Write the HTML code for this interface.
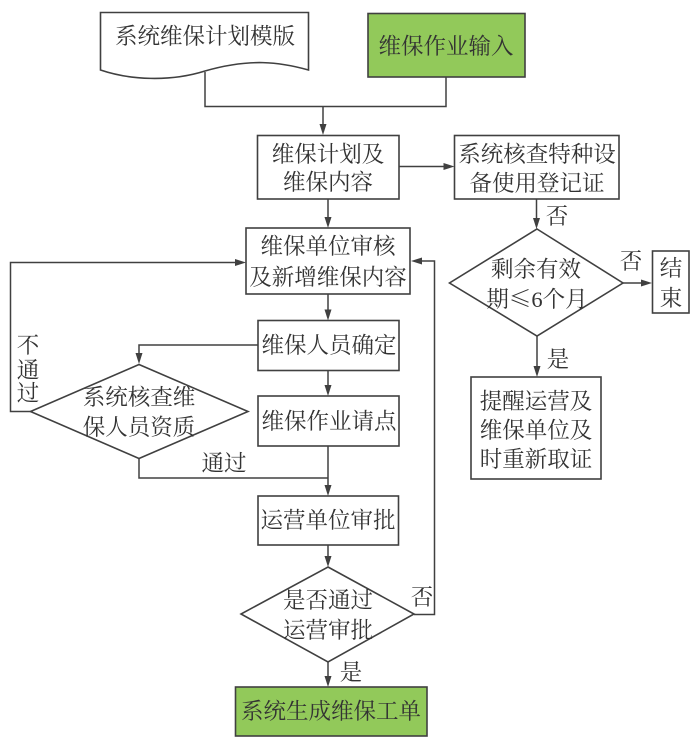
<!DOCTYPE html>
<html><head><meta charset="utf-8"><style>
html,body{margin:0;padding:0;background:#fff}
svg{display:block;filter:blur(0.35px)}
text{font-family:"Liberation Serif","Noto Serif CJK SC",serif;font-size:22.5px;fill:#333;text-anchor:middle}
.b{fill:#fff;stroke:#404040;stroke-width:1.6}
.g{fill:#92c95a;stroke:#404040;stroke-width:1.6}
.l{fill:none;stroke:#404040;stroke-width:1.5}
.a{fill:#404040;stroke:none}
</style></head><body>
<svg width="693" height="738" viewBox="0 0 693 738" xmlns="http://www.w3.org/2000/svg">
<path class="b" d="M100.5,12.5H308.5V70C280,62 250,58 205,71C170,82 130,80 100.5,70Z"/>
<rect class="g" x="368" y="13.5" width="157" height="63.5"/>
<path class="l" d="M205,72V106.5H446V77M323,106.5V130"/>
<path class="a" d="M323,135l-3.5,-11h7z"/>
<rect class="b" x="257.5" y="135.5" width="141.5" height="63.5"/>
<rect class="b" x="454.5" y="135.5" width="164.5" height="63.5"/>
<path class="l" d="M399,166.5H450"/><path class="a" d="M454.5,166.5l-11,-3.5v7z"/>
<path class="l" d="M328,199V223"/><path class="a" d="M328,228l-3.5,-11h7z"/>
<rect class="b" x="246" y="228" width="164" height="66"/>
<path class="l" d="M328,294V315"/><path class="a" d="M328,320.500l-3.5,-11h7z"/>
<rect class="b" x="258" y="320.500" width="141" height="50"/>
<path class="l" d="M328,370V391"/><path class="a" d="M328,396l-3.500,-11h7z"/>
<rect class="b" x="258" y="396" width="141" height="50"/>
<path class="l" d="M328,446V491"/><path class="a" d="M328,496l-3.500,-11h7z"/>
<rect class="b" x="258" y="496" width="140.500" height="49"/>
<path class="l" d="M328,545V562"/><path class="a" d="M328,567l-3.500,-11h7z"/>
<path class="b" d="M328,567L414,614L328,662L241,614Z"/>
<path class="l" d="M328,662V682"/><path class="a" d="M328,687l-3.500,-11h7z"/>
<rect class="g" x="235.500" y="687" width="191.500" height="49"/>
<path class="l" d="M414,614.500H434.500V261H416"/><path class="a" d="M411,261l11,-3.500v7z"/>
<path class="l" d="M31,411.500H10.500V262.500H241"/><path class="a" d="M246,262.500l-11,-3.500v7z"/>
<path class="l" d="M258,345H139V359"/><path class="a" d="M139,364l-3.500,-11h7z"/>
<path class="b" d="M139,364.500L248,411.500L139,458.500L30.500,411.500Z"/>
<path class="l" d="M139,458V478H328"/>
<path class="l" d="M536.500,199V224"/><path class="a" d="M536.500,229l-3.500,-11h7z"/>
<path class="b" d="M537,229L623,283L537,336L449.500,283Z"/>
<path class="l" d="M623,283H647"/><path class="a" d="M652,283l-11,-3.500v7z"/>
<rect class="b" x="652.500" y="251" width="36.500" height="62"/>
<path class="l" d="M537,336V372"/><path class="a" d="M537,377l-3.500,-11h7z"/>
<rect class="b" x="471" y="377" width="130" height="102"/>

<text x="205" y="44">系统维保计划模版</text>
<text x="446" y="54">维保作业输入</text>
<text x="328" y="162">维保计划及</text>
<text x="328" y="190">维保内容</text>
<text x="537" y="162">系统核查特种设</text>
<text x="537" y="191">备使用登记证</text>
<text x="328" y="254">维保单位审核</text>
<text x="328" y="285">及新增维保内容</text>
<text x="329" y="353">维保人员确定</text>
<text x="329" y="429">维保作业请点</text>
<text x="328" y="528">运营单位审批</text>
<text x="139" y="405">系统核查维</text>
<text x="139" y="435">保人员资质</text>
<text x="328" y="608">是否通过</text>
<text x="328" y="638">运营审批</text>
<text x="331" y="719">系统生成维保工单</text>
<text x="536" y="277">剩余有效</text>
<text x="537" y="307">期<tspan style="font-family:'Noto Serif CJK SC',serif">≤</tspan>6个月</text>
<text x="671" y="276">结</text>
<text x="671" y="306">束</text>
<text x="536" y="409">提醒运营及</text>
<text x="536" y="438">维保单位及</text>
<text x="536" y="467">时重新取证</text>
<text x="28" y="353">不</text>
<text x="28" y="378">通</text>
<text x="28" y="401">过</text>
<text x="224" y="471">通过</text>
<text x="557" y="224">否</text>
<text x="631" y="269">否</text>
<text x="558" y="367">是</text>
<text x="422" y="605">否</text>
<text x="351" y="680">是</text>
</svg>
</body></html>
